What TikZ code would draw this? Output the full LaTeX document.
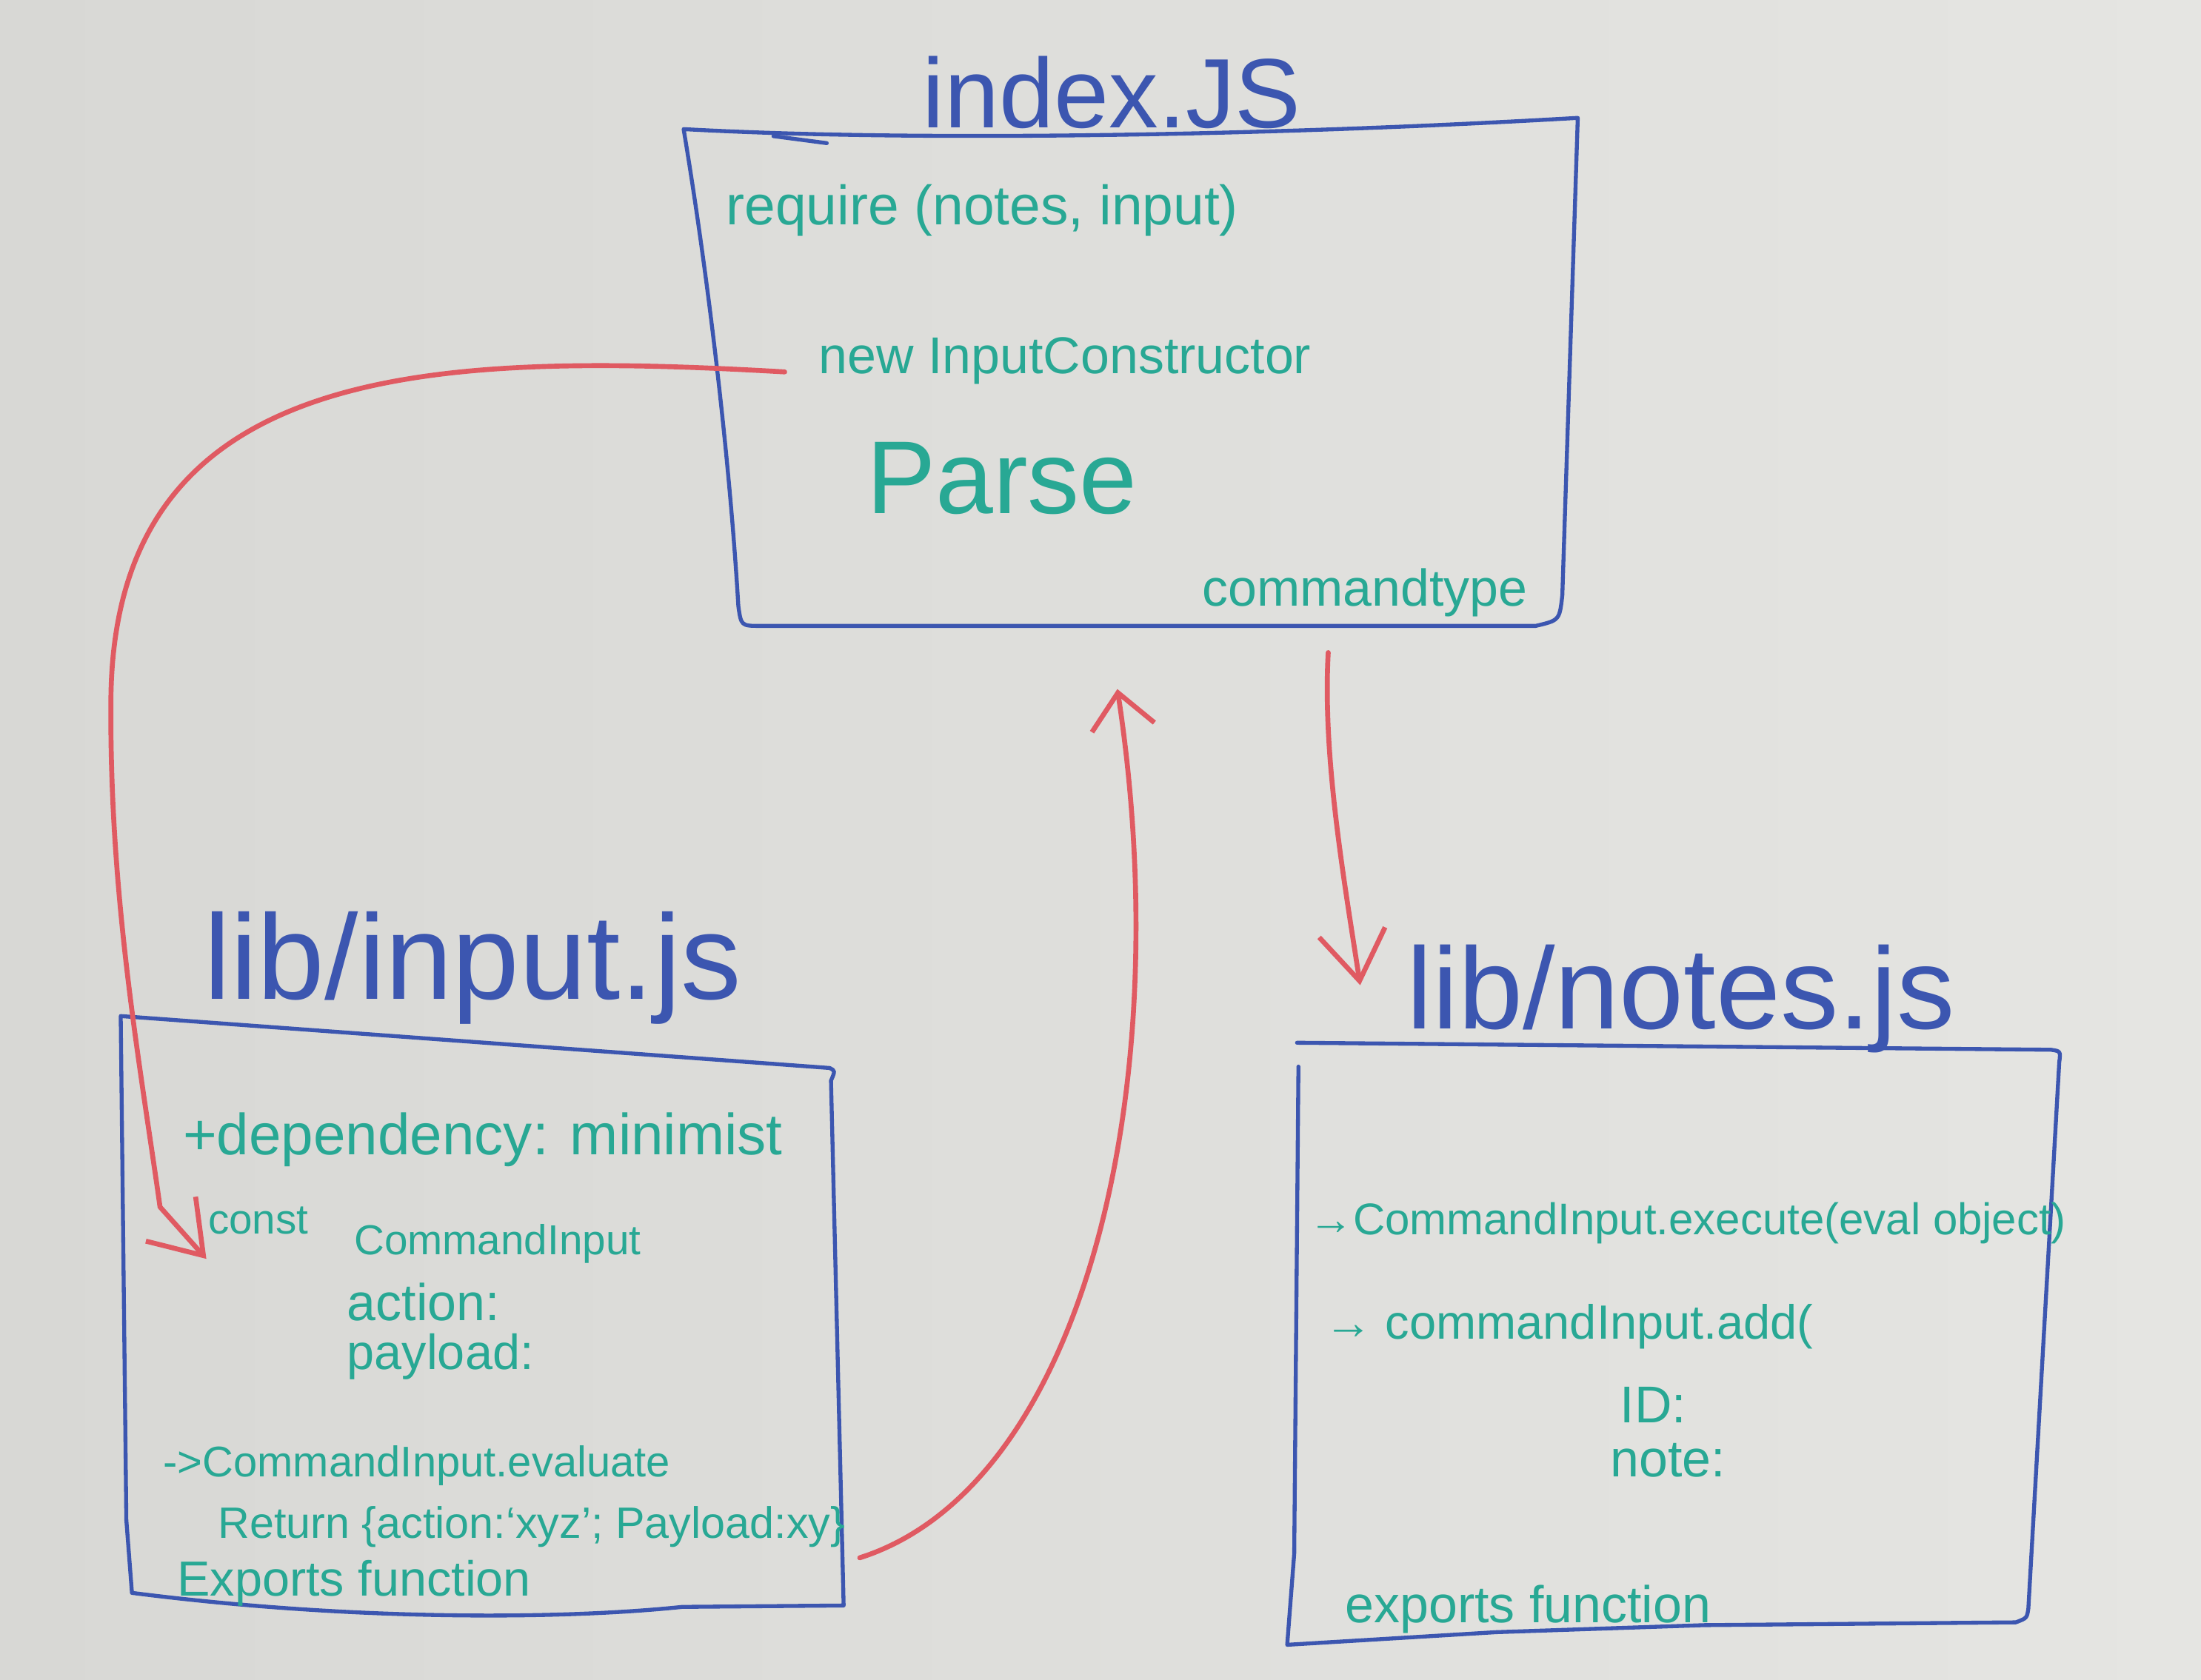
\documentclass[tikz,border=0pt]{standalone}
\usepackage{fontspec}
\setmainfont{Liberation Sans}
\usetikzlibrary{arrows.meta}

\definecolor{wbleft}{RGB}{216,216,213}
\definecolor{wbright}{RGB}{229,229,226}
\definecolor{wbblue}{RGB}{60,86,176}
\definecolor{wbteal}{RGB}{40,168,148}
\definecolor{wbred}{RGB}{224,90,98}

\newcommand{\wbsize}[1]{\fontsize{#1}{#1}\selectfont}

\begin{document}
\begin{tikzpicture}[
    x=0.02cm, y=-0.02cm,
    outline/.style={draw=wbblue, line width=1.6pt, line cap=round, line join=round},
    heading/.style={text=wbblue, inner sep=0pt, anchor=base west, font={\wbsize{48pt}}},
    scrawl/.style={text=wbteal, inner sep=0pt, anchor=base west, font={\wbsize{21pt}}},
    link/.style={draw=wbred, line width=2pt, line cap=round,
                 -{Straight Barb[length=0.7cm,width=0.95cm]}}
  ]
  \shade[left color=wbleft, right color=wbright] (0,0) rectangle (1568,1197);
  \useasboundingbox (0,0) rectangle (1568,1197);

  % index.js
  \node[heading, font={\wbsize{40pt}}] (ixtitle) at (657,91) {index.JS};
  \draw[outline] (487,92) .. controls (650,101) and (900,97) .. (1124,84) -- (1113,424)
    .. controls (1111,442) .. (1094,446) -- (542,446) .. controls (528,446) .. (526,432)
    .. controls (520,330) and (505,200) .. (487,92) -- cycle;
  \draw[outline] (551,97) -- (589,102);
  \node[scrawl, font={\wbsize{22.5pt}}] (require) at (517,160) {require (notes, input)};
  \node[scrawl] (newin) at (583,266) {new InputConstructor};
  \node[scrawl, font={\wbsize{42pt}}] (parse) at (617,366) {Parse};
  \node[scrawl] (cmdtype) at (856,432) {commandtype};

  % lib/input.js
  \node[heading, font={\wbsize{49pt}}] (intitle) at (145,712) {lib/input.js};
  \draw[outline] (86,724) -- (591,761) .. controls (595,763) .. (592,770) -- (601,1144)
    -- (486,1145) .. controls (400,1154) and (250,1155) .. (94,1135) -- (90,1083) -- cycle;
  \node[scrawl, font={\wbsize{23.5pt}}] (dep) at (130,823) {+dependency: minimist};
  \node[scrawl, font={\wbsize{17pt}}] (const) at (148,879) {const};
  \node[scrawl, font={\wbsize{17pt}}] (cinput) at (252,894) {CommandInput};
  \node[scrawl] (action) at (247,941) {action:};
  \node[scrawl, font={\wbsize{20pt}}] (payload) at (247,976) {payload:};
  \node[scrawl, font={\wbsize{17.4pt}}] (evaluate) at (116,1052) {->CommandInput.evaluate};
  \node[scrawl, font={\wbsize{17.8pt}}] (retn) at (155,1096) {Return \{action:`xyz'; Payload:xy\}};
  \node[scrawl, font={\wbsize{20pt}}] (exportsin) at (126,1137) {Exports function};

  % lib/notes.js
  \node[heading, font={\wbsize{47pt}}] (nttitle) at (1002,733) {lib/notes.js};
  \draw[outline] (924,743) -- (1461,748) .. controls (1468,749) .. (1467,757) -- (1445,1146)
    .. controls (1444,1153) .. (1436,1156) -- (1214,1158) -- (1066,1163) -- (917,1172)
    -- (922,1107) -- (925,760);
  \node[scrawl, font={\wbsize{18pt}}] (execute) at (932,880) {→CommandInput.execute(eval object)};
  \node[scrawl, font={\wbsize{19.5pt}}] (add) at (943,954) {→ commandInput.add(};
  \node[scrawl] (id) at (1154,1014) {ID:};
  \node[scrawl] (note) at (1147,1052) {note:};
  \node[scrawl] (exportsnt) at (958,1156) {exports function};

  % red links
  \coordinate (ci-in) at ([shift={(-1,18)}]const.base west);
  \coordinate (ix-in) at (796,491);
  \coordinate (nt-in) at ([shift={(-33,-31)}]nttitle.base west);

  \draw[link] ([shift={(-24,-1)}]newin.base west) .. controls (300,250) and (80,260) .. (79,500)
    .. controls (78,640) and (100,760) .. (114,860) -- (ci-in);
  \draw[link, -{Straight Barb[length=0.5cm,width=0.9cm]}] ([shift={(10,14)}]retn.base east)
    .. controls (770,1060) and (840,780) .. (ix-in);
  \draw[link] ([shift={(-26,33)}]cmdtype.base) .. controls (942,540) and (958,630) .. (nt-in);
\end{tikzpicture}
\end{document}
